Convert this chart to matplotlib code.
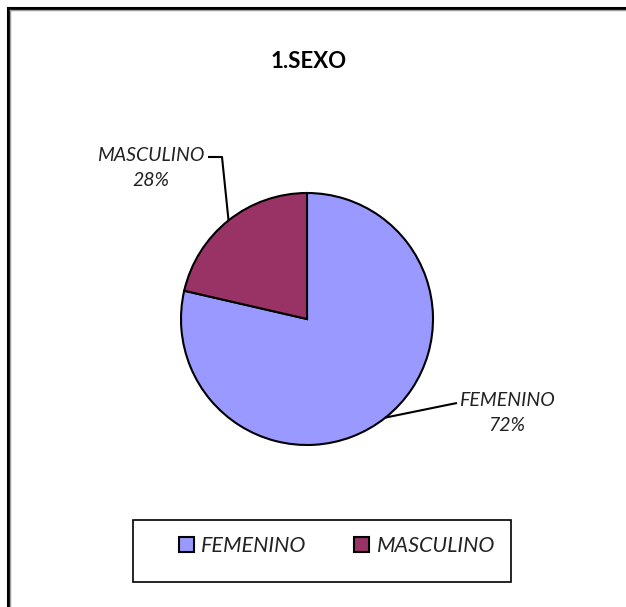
import numpy as np
import matplotlib.pyplot as plt
from matplotlib.patches import Rectangle, Patch
from matplotlib.lines import Line2D

categories = ["FEMENINO", "MASCULINO"]
pct_labels = ["72%", "28%"]
slice_sizes = [78.6, 21.4]   # slice extents as drawn in the picture
colors = ["#9999FF", "#993366"]
title = "1.SEXO"

W, H = 626, 607
fig = plt.figure(figsize=(W / 100, H / 100), dpi=100)
ax = fig.add_axes([0, 0, 1, 1])

def P(x, y):
    return x, H - y

cx, cy = P(307, 319)
R = 126
wedges, _ = ax.pie(slice_sizes, colors=colors, startangle=90, counterclock=False,
                   center=(cx, cy), radius=R,
                   wedgeprops=dict(edgecolor="black", linewidth=1.5))
ax.set_xlim(0, W)
ax.set_ylim(0, H)
ax.set_aspect("equal")
ax.axis("off")

fam = ["Lato", "DejaVu Sans"]
ax.text(*P(309, 61), title, ha="center", va="center", fontsize=16,
        fontweight="bold", family=fam, color="black")

# data labels with leader lines
label_pos = [(507, 413), (151, 168)]
leader_mid = [[(447, 405), (457, 403)], [(222, 157), (208, 157)]]
for w, cat, pct, lp, mids in zip(wedges, categories, pct_labels, label_pos, leader_mid):
    ang = np.deg2rad((w.theta1 + w.theta2) / 2)
    ex, ey = cx + R * np.cos(ang), cy + R * np.sin(ang)
    pts = [(ex, ey)] + [P(*m) for m in mids]
    xs, ys = zip(*pts)
    ax.plot(xs, ys, color="black", lw=1.5, solid_capstyle="butt")
    ax.text(*P(*lp), f"{cat}\n{pct}", ha="center", va="center", fontsize=14,
            style="italic", family=fam, color="#222222", linespacing=1.55)

# legend box
lx0, ly0, lx1, ly1 = 133, 520, 511, 582
ax.add_patch(Rectangle(P(lx0, ly1), lx1 - lx0, ly1 - ly0, facecolor="white",
                       edgecolor="black", lw=1.2))
handles = [Patch(facecolor=c, edgecolor="black", lw=1.5) for c in colors]
leg = ax.legend(handles, categories, loc="center",
                bbox_to_anchor=(337 / W, 1 - 546 / H), bbox_transform=fig.transFigure,
                ncol=2, frameon=False, handlelength=0.7, handleheight=0.7,
                handletextpad=0.35, columnspacing=2.2,
                prop=dict(family=fam, style="italic", size=15.5))
for t in leg.get_texts():
    t.set_color("#222222")

# outer border (top and left only visible)
ax.add_line(Line2D([7.5, W], [H - 8, H - 8], color="black", lw=2.2))
ax.add_line(Line2D([7.5, 7.5], [0, H - 8], color="black", lw=2.2))
ax.add_line(Line2D([9.5, W], [H - 10, H - 10], color="#999999", lw=1))
ax.add_line(Line2D([9.5, 9.5], [0, H - 10], color="#999999", lw=1))

fig.savefig("out.png", dpi=100)
